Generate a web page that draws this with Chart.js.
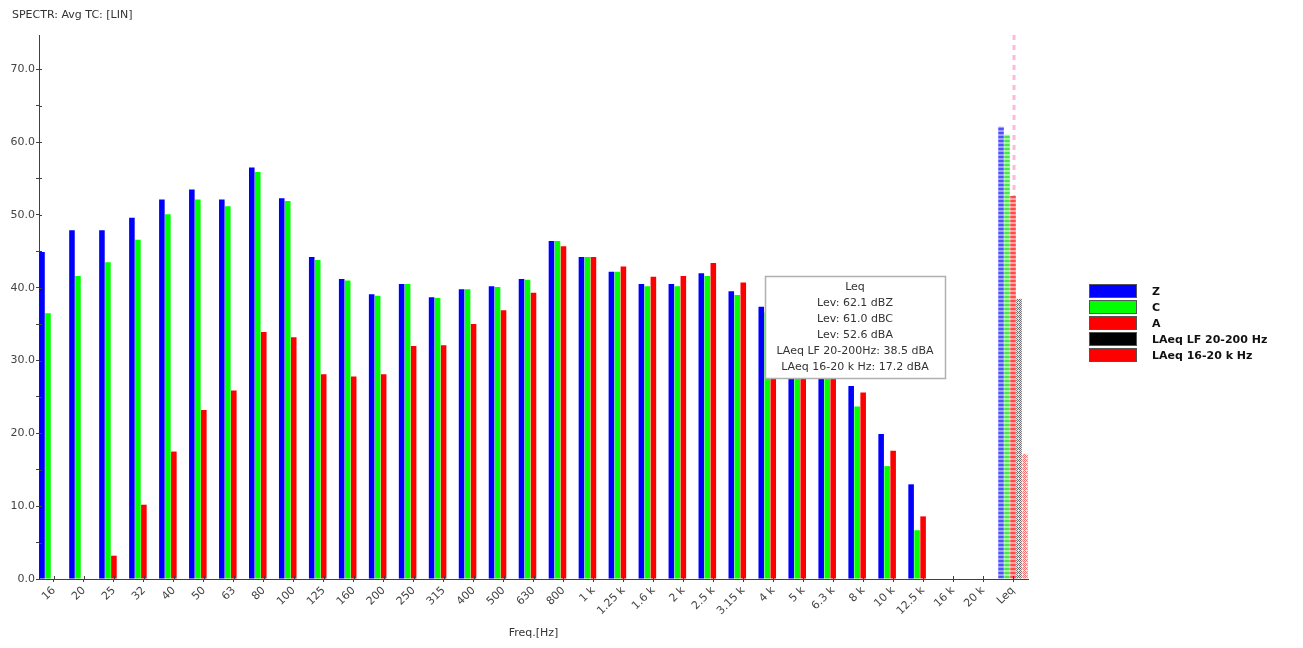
<!DOCTYPE html>
<html>
<head>
<meta charset="utf-8">
<script src="https://cdn.jsdelivr.net/npm/chart.js@4.4.0/dist/chart.umd.min.js"></script>
<style>
html,body{margin:0;padding:0;background:#fff;}
#wrap{width:1303px;height:648px;}
</style>
</head>
<body>
<div id="wrap"><canvas id="c" width="1303" height="648"></canvas></div>
<script>
const chartTitle = 'SPECTR: Avg TC: [LIN]';
const xTitle = 'Freq.[Hz]';
const categories = ['16','20','25','32','40','50','63','80','100','125','160','200','250','315','400','500','630','800','1 k','1.25 k','1.6 k','2 k','2.5 k','3.15 k','4 k','5 k','6.3 k','8 k','10 k','12.5 k','16 k','20 k','Leq'];
const zValues = [44.9,47.9,47.9,49.6,52.1,53.5,52.1,56.5,52.3,44.2,41.2,39.1,40.5,38.7,39.8,40.2,41.2,46.4,44.2,42.2,40.5,40.5,42.0,39.5,37.4,34.0,30.5,26.5,19.9,13.0,null,null,62.1];
const cValues = [36.5,41.6,43.5,46.6,50.1,52.1,51.2,55.9,51.9,43.8,41.0,38.9,40.5,38.6,39.8,40.1,41.1,46.4,44.2,42.2,40.2,40.2,41.6,39.0,36.6,32.7,28.5,23.7,15.5,6.7,null,null,61.0];
const aValues = [null,null,3.2,10.2,17.5,23.2,25.9,33.9,33.2,28.1,27.8,28.1,32.0,32.1,35.0,36.9,39.3,45.7,44.2,42.9,41.5,41.6,43.4,40.7,38.4,34.5,30.4,25.6,17.6,8.6,null,null,52.6];
const lfValues = [null,null,null,null,null,null,null,null,null,null,null,null,null,null,null,null,null,null,null,null,null,null,null,null,null,null,null,null,null,null,null,null,38.5];
const hfValues = [null,null,null,null,null,null,null,null,null,null,null,null,null,null,null,null,null,null,null,null,null,null,null,null,null,null,null,null,null,null,null,null,17.2];
const seriesLabels = ['Z','C','A','LAeq LF 20-200 Hz','LAeq 16-20 k Hz'];
const yTickValues = [0,5,10,15,20,25,30,35,40,45,50,55,60,65,70];
const infoLines = ['Leq','Lev: 62.1 dBZ','Lev: 61.0 dBC','Lev: 52.6 dBA','LAeq LF 20-200Hz: 38.5 dBA','LAeq 16-20 k Hz: 17.2 dBA'];

const FONT = "'DejaVu Sans', 'Liberation Sans', sans-serif";
const solid = ['#0000ff','#00ff00','#ff0000','#000000','#ff0000'];

function makePattern(color, light, sparse) {
  const c = document.createElement('canvas');
  c.width = 4; c.height = 4;
  const g = c.getContext('2d');
  g.fillStyle = light; g.fillRect(0,0,4,4);
  g.fillStyle = color;
  if (sparse) {
    g.fillRect(0,0,1,1); g.fillRect(2,0,1,1); g.fillRect(1,1,1,1); g.fillRect(3,1,1,1);
    g.fillRect(0,2,1,1); g.fillRect(1,3,1,1); g.fillRect(3,3,1,1);
  } else {
    g.fillRect(0,0,4,2);
  }
  return g.createPattern(c,'repeat');
}
const pats = [
  makePattern('#5050ff','#9c9cff',false),
  makePattern('#45e845','#a6f4a6',false),
  makePattern('#ff4a4a','#ffa2a2',false),
  makePattern('#6a6a6a','#e6e6e6',true),
  makePattern('#ff7070','#ffe0e0',true)
];
function colorsFor(i) {
  return categories.map((c, k) => k === categories.length - 1 ? pats[i] : solid[i]);
}

const deco = {
  id: 'deco',
  beforeDatasetsDraw(chart) {
    const {ctx, chartArea: a, scales: {x}} = chart;
    const px = x.getPixelForValue(categories.length - 1) + 1;
    ctx.save();
    ctx.strokeStyle = '#ffb8dc';
    ctx.lineWidth = 3;
    ctx.setLineDash([5,5]);
    ctx.beginPath();
    ctx.moveTo(px, a.top); ctx.lineTo(px, a.bottom);
    ctx.stroke();
    ctx.restore();
  },
  afterDraw(chart) {
    const {ctx, chartArea: a, scales: {x, y}} = chart;
    ctx.save();
    // inner tick marks
    ctx.strokeStyle = '#404040';
    ctx.lineWidth = 1;
    ctx.beginPath();
    yTickValues.forEach(v => {
      const py = Math.round(y.getPixelForValue(v)) + 0.5;
      ctx.moveTo(a.left, py); ctx.lineTo(a.left + 3, py);
    });
    categories.forEach((c, k) => {
      const px = Math.round(x.getPixelForValue(k)) + 0.5;
      ctx.moveTo(px, a.bottom); ctx.lineTo(px, a.bottom - 3);
    });
    ctx.stroke();
    // title
    ctx.fillStyle = '#333';
    ctx.font = '11px ' + FONT;
    ctx.textAlign = 'left';
    ctx.textBaseline = 'middle';
    ctx.fillText(chartTitle, 12, 15);
    // legend
    const lx = 1089, ly = 284, bw = 48, bh = 14, step = 16;
    chart.data.datasets.forEach((ds, i) => {
      const top = ly + i * step;
      ctx.fillStyle = solid[i];
      ctx.fillRect(lx, top, bw, bh);
      ctx.strokeStyle = '#555';
      ctx.strokeRect(lx + 0.5, top + 0.5, bw - 1, bh - 1);
      ctx.fillStyle = '#111';
      ctx.font = 'bold 11px ' + FONT;
      ctx.textAlign = 'left';
      ctx.textBaseline = 'middle';
      ctx.fillText(ds.label, 1152, top + bh / 2 + 1);
    });
    // info box
    const bx = 765, by = 276, bwid = 180, bhgt = 102;
    ctx.fillStyle = '#fff';
    ctx.fillRect(bx, by, bwid, bhgt);
    ctx.strokeStyle = '#b0b0b0';
    ctx.lineWidth = 1.5;
    ctx.strokeRect(bx + 0.5, by + 0.5, bwid, bhgt);
    ctx.fillStyle = '#333';
    ctx.font = '11px ' + FONT;
    ctx.textAlign = 'center';
    ctx.textBaseline = 'middle';
    infoLines.forEach((t, i) => ctx.fillText(t, bx + bwid / 2, 287 + i * 16));
    ctx.restore();
  }
};

Chart.defaults.font.family = FONT;
Chart.defaults.font.size = 11;
Chart.defaults.color = '#333';

const ds = (label, data, i) => ({
  label, data, backgroundColor: colorsFor(i), borderWidth: 0,
  categoryPercentage: 1.0, barPercentage: 0.93
});

new Chart(document.getElementById('c'), {
  type: 'bar',
  data: {
    labels: categories,
    datasets: [
      ds(seriesLabels[0], zValues, 0),
      ds(seriesLabels[1], cValues, 1),
      ds(seriesLabels[2], aValues, 2),
      ds(seriesLabels[3], lfValues, 3),
      ds(seriesLabels[4], hfValues, 4)
    ]
  },
  options: {
    responsive: false,
    animation: false,
    layout: { padding: { top: 35, right: 275, left: 0, bottom: 0 } },
    plugins: { legend: { display: false }, tooltip: { enabled: false }, title: { display: false } },
    scales: {
      x: {
        offset: true,
        grid: { display: true, drawOnChartArea: false, drawTicks: true, tickLength: 3, offset: false, color: '#404040' },
        border: { display: true, color: '#404040', width: 1 },
        ticks: { autoSkip: false, maxRotation: 45, minRotation: 45, padding: 2, color: '#444', font: { size: 11 } },
        title: { display: true, text: xTitle, color: '#333', font: { size: 11 }, padding: { top: 8, bottom: 8 } },
        afterFit(scale) { scale.height = 69; }
      },
      y: {
        min: 0,
        max: 74.7,
        afterBuildTicks(scale) { scale.ticks = yTickValues.map(v => ({ value: v })); },
        grid: { display: true, drawOnChartArea: false, drawTicks: true, tickLength: 3, color: '#404040' },
        border: { display: true, color: '#404040', width: 1 },
        ticks: {
          padding: 1, color: '#444', font: { size: 11 },
          callback: (v) => (v % 10 === 0 ? Number(v).toFixed(1) : '')
        },
        afterFit(scale) { scale.width = 39; }
      }
    }
  },
  plugins: [deco]
});
</script>
</body>
</html>
